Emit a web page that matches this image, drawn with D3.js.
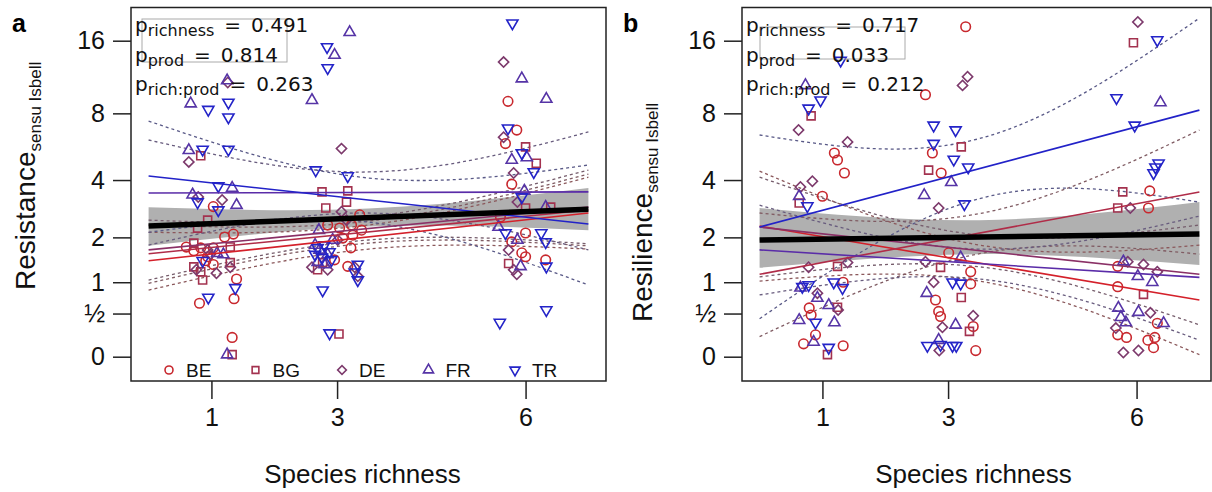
<!DOCTYPE html>
<html>
<head>
<meta charset="utf-8">
<script src="https://cdn.jsdelivr.net/npm/d3@7"></script>
<style>
  body { margin: 0; background: #fff; }
</style>
</head>
<body>
<svg id="chart" width="1212" height="492"></svg>
<script>
  // ---- DATA ----
  // countries, in legend order
  var countries = ["BE", "BG", "DE", "FR", "TR"];
  var richnessTicks = [1, 3, 6];
  var yTicks = [0, 0.5, 1, 2, 4, 8, 16];
  var yTickLabels = ["0", "\u00bd", "1", "2", "4", "8", "16"];
  // richness at which fitted lines / confidence curves were read
  var fitX = [0, 7];
  var ciX = [0, 3.5, 7];

  // a: resistance, points as [jittered richness, value]
  var resistanceBE = [[0.60,1.75],[1.21,2.01],[1.35,2.09],[1.03,1.73],[0.83,1.73],[0.94,1.52],[1.03,1.35],[1.40,1.06],[0.81,0.65],[1.36,0.72],[1.33,0.20],[1.03,2.95],[0.72,1.66],[0.91,1.43],
    [3.36,2.67],[2.85,2.35],[3.23,2.35],[3.39,2.2],[3.09,1.98],[3.25,2.06],[3.22,1.73],[2.96,1.45],[3.17,1.31],[3.04,2.26],
    [5.72,9.0],[5.86,6.77],[5.68,5.9],[5.78,3.82],[5.60,2.6],[6.0,2.12],[5.78,1.88],[5.94,1.61],[6.0,1.52],[6.32,1.45]];
  var resistanceBG = [[0.83,5.2],[0.94,2.5],[0.78,2.26],[0.72,1.85],[1.30,1.75],[0.72,1.3],[1.30,1.39],[0.83,1.2],[0.86,1.04],[1.33,0.02],
    [2.76,3.5],[3.17,3.54],[3.15,3.11],[2.82,2.9],[2.77,1.39],[3.03,0.24],[2.69,1.24],
    [6.0,5.7],[6.17,4.8],[6.0,2.9],[6.40,2.93],[5.73,1.37]];
  var resistanceDE = [[0.64,4.87],[1.17,3.19],[0.94,1.68],[1.08,1.17],[1.30,1.29],[0.76,1.24],[0.79,3.3],[0.98,1.57],[1.26,10.8],
    [3.07,5.6],[3.07,2.77],[3.15,2.5],[2.60,1.29],[3.28,1.29],[3.33,1.11],[2.85,1.24],[3.01,1.93],
    [5.65,13.1],[5.65,6.3],[5.81,4.32],[5.87,3.11],[5.81,1.24],[5.86,1.15],[5.73,1.68]];
  var resistanceFR = [[0.67,8.8],[0.64,5.5],[1.33,3.66],[0.70,3.39],[1.40,3.0],[1.19,1.57],[1.09,1.6],[1.25,11.0],[1.25,0.02],
    [3.20,17.3],[2.96,14.0],[2.60,9.1],[2.71,2.2],[2.65,1.8],[2.72,1.68],[2.85,1.57],[2.93,1.93],[2.69,1.4],[2.80,1.35],
    [5.94,11.2],[6.33,9.2],[6.02,5.1],[5.78,4.97],[5.98,3.54],[6.32,2.93],[5.57,2.29],[5.87,1.93],[5.92,1.31]];
  var resistanceTR = [[0.95,8.3],[1.27,8.9],[1.27,7.7],[0.86,5.55],[1.27,5.55],[1.11,3.74],[0.78,3.11],[1.11,2.83],[0.86,1.43],[1.38,0.90],[0.95,0.74],
    [2.84,15.1],[2.85,12.4],[2.66,4.46],[3.17,4.18],[2.77,0.86],[2.88,0.25],[2.69,1.73],[2.80,1.8],[2.88,1.63],[2.76,1.5],[2.91,1.45],[2.65,1.57],[3.33,1.35],[3.28,1.19],[3.33,1.04],
    [5.79,18.8],[5.72,6.9],[5.94,5.35],[6.13,4.37],[5.94,3.3],[5.68,2.12],[6.25,2.12],[6.32,1.88],[6.33,1.31],[5.59,0.38],[6.33,0.55]];
  // fitted values at richness 0 and 7, per country (BE, BG, DE, FR, TR)
  var resistanceFit = [[1.43,2.73],[1.59,2.83],[1.68,2.93],[3.46,3.50],[4.18,2.38]];
  var resistanceCiUpper = [[2.14,2.35,4.13],[2.35,2.47,4.27],[2.50,2.60,4.46],[6.12,4.37,6.64],[7.41,4.09,4.71]];
  var resistanceCiLower = [[0.86,1.70,1.70],[0.98,1.85,1.78],[1.04,1.93,1.83],[1.80,2.73,1.68],[2.14,2.44,0.95]];
  var resistanceOverall = [2.32, 2.86];
  var resistanceBandUpper = [2.93, 2.88, 3.66];
  var resistanceBandLower = [1.78, 2.31, 2.20];
  var resistanceP = ["0.491", "0.814", "0.263"];

  // b: resilience
  var resilienceBE = [[1.19,5.35],[1.24,4.97],[1.35,4.32],[1.0,3.33],[1.33,1.0],[0.79,0.58],[0.82,0.48],[0.89,0.23],[0.70,0.13],[1.33,0.11],
    [3.28,18.2],[2.64,9.6],[2.75,5.35],[2.89,4.32],[3.01,1.61],[3.36,1.2],[3.36,0.97],[2.80,0.70],[2.85,0.53],[2.88,0.46],[3.40,0.33],[3.44,0.06],
    [6.21,3.54],[6.19,2.9],[5.70,1.31],[5.70,0.92],[6.33,0.37],[5.70,0.23],[5.84,0.2],[6.18,0.17],[6.29,0.2],[6.27,0.09]];
  var resilienceBG = [[0.82,7.8],[0.63,3.08],[1.24,1.31],[1.24,0.59],[1.08,0.02],
    [3.21,5.7],[2.69,4.46],[2.88,1.29],[3.21,0.74],[3.34,0.27],
    [5.95,15.7],[5.78,3.5],[5.70,2.9],[6.11,0.79]];
  var resilienceDE = [[0.62,6.77],[1.40,6.0],[0.84,3.95],[0.65,3.7],[0.78,1.29],[1.40,1.39],[0.92,0.81],[1.25,0.55],
    [3.31,11.4],[3.23,10.5],[2.85,2.9],[2.64,1.41],[2.77,1.0],[3.40,0.47],[2.91,0.32],[2.86,0.06],
    [6.02,19.0],[5.90,2.9],[5.86,1.41],[6.11,1.35],[6.33,1.2],[6.22,0.51],[5.67,0.31],[5.79,0.04],[6.03,0.06]];
  var resilienceFR = [[0.73,10.5],[0.63,3.33],[0.65,0.90],[0.92,0.73],[1.10,0.62],[0.63,0.41],[1.19,0.38],[0.86,0.15],
    [3.05,3.9],[2.62,3.37],[3.20,1.5],[2.66,0.81],[3.12,0.35],[2.85,0.17],
    [6.38,8.9],[5.79,1.41],[6.02,1.11],[6.25,1.0],[5.71,0.58],[6.03,0.52],[5.75,0.45],[5.83,0.38],[6.43,0.37]];
  var resilienceTR = [[1.29,13.3],[0.97,9.1],[0.78,8.4],[0.76,2.97],[0.68,0.92],[0.78,0.95],[1.18,1.0],[1.32,0.90],[0.89,0.38],[1.10,0.09],
    [2.77,7.1],[3.12,6.77],[2.77,5.9],[3.09,5.0],[3.32,4.6],[3.26,3.04],[3.07,1.0],[3.20,0.98],[2.67,0.11],[3.07,0.11],[3.13,0.11],[2.88,0.12],
    [6.33,16.1],[5.68,9.3],[5.97,7.1],[6.35,4.8],[6.30,4.6],[6.27,4.32]];
  var resilienceFit = [[2.32,0.70],[1.15,3.5],[2.29,1.15],[1.68,1.09],[2.29,8.26]];
  var resilienceCiUpper = [[4.41,1.80,1.80],[2.73,2.71,6.77],[4.13,2.06,2.35],[3.0,1.70,2.63],[6.44,6.21,19.7]];
  var resilienceCiLower = [[1.02,1.02,0.02],[0.21,1.59,1.58],[1.10,1.30,0.35],[0.78,1.06,0.17],[0.43,3.24,3.11]];
  var resilienceOverall = [1.93, 2.09];
  var resilienceBandUpper = [2.90, 2.50, 3.11];
  var resilienceBandLower = [1.28, 1.58, 1.34];
  var resilienceP = ["0.717", "0.033", "0.212"];

  var pTerms = ["richness", "prod", "rich:prod"];

  // ---- STYLE ----
  var pointColor = { BE: "#c8282e", BG: "#a3324f", DE: "#7d3a6c", FR: "#5634a6", TR: "#2424c8" };
  var lineColor  = { BE: "#d4202a", BG: "#b02c48", DE: "#8a3066", FR: "#5a2ca8", TR: "#2222c8" };
  var sansFont = "'Liberation Sans', Arial, sans-serif";
  var mathFont = "'DejaVu Sans', sans-serif";
  var plotTop = 7.5, plotBottom = 381, plotW = 475;

  var svg = d3.select("#chart");

  var symbolFor = function(c) {
    if (c === "BE") return d3.symbol(d3.symbolCircle, 72)();
    if (c === "BG") return d3.symbol(d3.symbolSquare, 64)();
    if (c === "DE") return d3.symbol(d3.symbolSquare, 52)();
    return d3.symbol(d3.symbolTriangle, 54)();
  };
  var symbolRotate = function(c) {
    if (c === "DE") return " rotate(45)";
    if (c === "TR") return " rotate(180)";
    return "";
  };

  function drawPanel(p) {
    var x = d3.scaleLinear().domain([-0.28, 7.28]).range([p.left, p.left + plotW]);
    var y = d3.scaleSymlog().constant(1.1).domain([0, 16]).range([356.7, 40.7]);
    var g = svg.append("g");

    var clipId = "clip" + p.label;
    g.append("clipPath").attr("id", clipId)
      .append("rect").attr("x", p.left).attr("y", plotTop)
      .attr("width", p.boxW).attr("height", plotBottom - plotTop);
    var inner = g.append("g").attr("clip-path", "url(#" + clipId + ")");

    // overall confidence band
    var band = ciX.map(function(cx, i) { return { x: cx, lo: p.bandLower[i], hi: p.bandUpper[i] }; });
    inner.append("path").datum(band)
      .attr("fill", "#b0b0b0")
      .attr("d", d3.area().curve(d3.curveNatural)
        .x(function(d) { return x(d.x); })
        .y0(function(d) { return y(d.lo); })
        .y1(function(d) { return y(d.hi); }));

    // per-country confidence curves (dashed)
    var ciLine = d3.line().curve(d3.curveNatural)
      .x(function(d, i) { return x(ciX[i]); })
      .y(function(d) { return y(d); });
    countries.forEach(function(c, k) {
      var col = d3.interpolateRgb(lineColor[c], "#6e6e6e")(0.72);
      [p.ciUpper[k], p.ciLower[k]].forEach(function(arr) {
        inner.append("path").datum(arr)
          .attr("fill", "none").attr("stroke", col)
          .attr("stroke-width", 1.3).attr("stroke-dasharray", "3,3")
          .attr("d", ciLine);
      });
    });

    // points
    countries.forEach(function(c, k) {
      inner.selectAll("path.pt" + c).data(p.points[k]).enter()
        .append("path").attr("class", "pt" + c)
        .attr("d", symbolFor(c))
        .attr("transform", function(d) {
          return "translate(" + x(d[0]) + "," + y(d[1]) + ")" + symbolRotate(c);
        })
        .attr("fill", "none").attr("stroke", pointColor[c]).attr("stroke-width", 1.6);
    });

    // fitted lines per country
    countries.forEach(function(c, k) {
      inner.append("line")
        .attr("x1", x(fitX[0])).attr("y1", y(p.fit[k][0]))
        .attr("x2", x(fitX[1])).attr("y2", y(p.fit[k][1]))
        .attr("stroke", lineColor[c]).attr("stroke-width", 1.6);
    });

    // overall fit
    inner.append("line")
      .attr("x1", x(fitX[0])).attr("y1", y(p.overall[0]))
      .attr("x2", x(fitX[1])).attr("y2", y(p.overall[1]))
      .attr("stroke", "#000").attr("stroke-width", 5.5);

    // box
    g.append("rect").attr("x", p.left).attr("y", plotTop)
      .attr("width", p.boxW).attr("height", plotBottom - plotTop)
      .attr("fill", "none").attr("stroke", "#222").attr("stroke-width", 1.5);

    // axes
    var yAxis = g.append("g").attr("transform", "translate(" + p.left + ",0)")
      .call(d3.axisLeft(y).tickValues(yTicks)
        .tickFormat(function(d, i) { return yTickLabels[i]; })
        .tickSize(18).tickPadding(8));
    var xAxis = g.append("g").attr("transform", "translate(0," + plotBottom + ")")
      .call(d3.axisBottom(x).tickValues(richnessTicks).tickSize(18).tickPadding(9));
    [yAxis, xAxis].forEach(function(a) {
      a.select(".domain").remove();
      a.selectAll(".tick line").attr("stroke", "#222").attr("stroke-width", 1.5);
      a.selectAll(".tick text").attr("fill", "#111")
        .style("font-family", sansFont).style("font-size", "25px");
    });

    // axis titles
    g.append("text")
      .attr("x", (p.left + p.left + plotW) / 2 - 6).attr("y", 483)
      .attr("text-anchor", "middle").attr("fill", "#111")
      .style("font-family", sansFont).style("font-size", "26px")
      .text("Species richness");
    var yt = g.append("text")
      .attr("transform", "translate(" + p.yTitleX + "," + p.yTitleY + ") rotate(-90)")
      .attr("fill", "#111").style("font-family", sansFont);
    yt.append("tspan").style("font-size", "28px").text(p.yTitle);
    yt.append("tspan").attr("dy", 6).style("font-size", "17px").text("sensu Isbell");

    // panel letter
    g.append("text").attr("x", p.left - 119).attr("y", 32)
      .style("font-family", sansFont).style("font-size", "25px").style("font-weight", "bold")
      .text(p.label);

    // p-values
    g.append("rect").attr("x", p.pBox[0]).attr("y", p.pBox[1])
      .attr("width", p.pBox[2]).attr("height", p.pBox[3])
      .attr("fill", "none").attr("stroke", "#aaa").attr("stroke-width", 1);
    pTerms.forEach(function(term, i) {
      var t = g.append("text").attr("x", p.left + 4).attr("y", 32 + i * 29.5)
        .attr("fill", "#111").style("font-family", mathFont).style("font-size", "20px");
      t.append("tspan").text("p");
      t.append("tspan").attr("dy", 4).style("font-size", "16px").text(term);
      t.append("tspan").attr("dy", -4).text("\u2002=\u2002" + p.pValues[i]);
    });

    // legend
    if (p.legend) {
      var lx = d3.scalePoint().domain(countries).range([p.left + 38, p.left + 384]);
      countries.forEach(function(c) {
        g.append("path").attr("d", function() {
            if (c === "BE") return d3.symbol(d3.symbolCircle, 50)();
            if (c === "BG") return d3.symbol(d3.symbolSquare, 45)();
            if (c === "DE") return d3.symbol(d3.symbolSquare, 38)();
            return d3.symbol(d3.symbolTriangle, 44)();
          })
          .attr("transform", "translate(" + lx(c) + ",370)" + symbolRotate(c))
          .attr("fill", "none").attr("stroke", pointColor[c]).attr("stroke-width", 1.6);
        g.append("text").attr("x", lx(c) + 17).attr("y", 377)
          .attr("fill", "#111").style("font-family", sansFont).style("font-size", "19px")
          .text(c);
      });
    }
  }

  drawPanel({
    label: "a", left: 131, boxW: 475,
    points: [resistanceBE, resistanceBG, resistanceDE, resistanceFR, resistanceTR],
    fit: resistanceFit, ciUpper: resistanceCiUpper, ciLower: resistanceCiLower,
    overall: resistanceOverall, bandUpper: resistanceBandUpper, bandLower: resistanceBandLower,
    pValues: resistanceP, pBox: [142, 19, 145, 43],
    yTitle: "Resistance", yTitleX: 35, yTitleY: 290, legend: true
  });
  drawPanel({
    label: "b", left: 742, boxW: 469,
    points: [resilienceBE, resilienceBG, resilienceDE, resilienceFR, resilienceTR],
    fit: resilienceFit, ciUpper: resilienceCiUpper, ciLower: resilienceCiLower,
    overall: resilienceOverall, bandUpper: resilienceBandUpper, bandLower: resilienceBandLower,
    pValues: resilienceP, pBox: [760, 27, 145, 32],
    yTitle: "Resilience", yTitleX: 652, yTitleY: 322, legend: false
  });
</script>
</body>
</html>
